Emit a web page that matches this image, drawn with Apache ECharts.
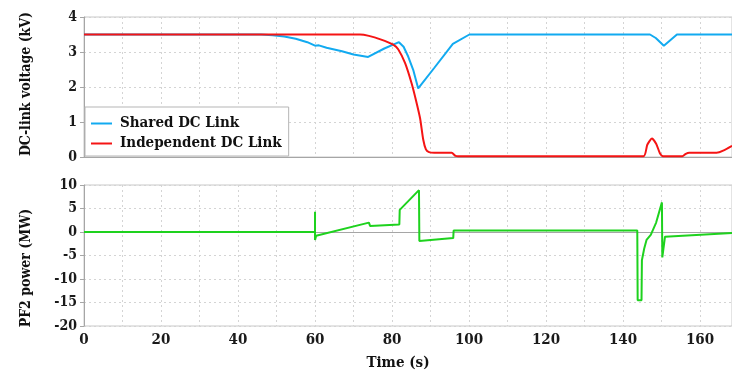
<!DOCTYPE html>
<html>
<head>
<meta charset="utf-8">
<script src="https://cdn.jsdelivr.net/npm/echarts@6/dist/echarts.min.js"></script>
<style>
  html, body { margin: 0; padding: 0; background: #fff; }
  #chart { width: 732px; height: 374px; }
</style>
</head>
<body>
<div id="chart"></div>
<script>
// Time axis (s)
const T_MAX = 168.3;

// DC-link voltage, shared DC link (kV)
const sharedT = [0, 46, 49, 52, 55, 58, 60, 61, 63, 67, 70, 73.8, 78, 81.8, 83, 84.2, 85.5, 86.8, 91, 95.8, 100.1, 147, 148.5, 150.6, 154, 168.3];
const sharedV = [3.5, 3.5, 3.48, 3.44, 3.38, 3.28, 3.18, 3.19, 3.12, 3.02, 2.93, 2.86, 3.1, 3.28, 3.15, 2.87, 2.49, 1.96, 2.55, 3.23, 3.5, 3.5, 3.4, 3.18, 3.5, 3.5];

// DC-link voltage, independent DC link (kV)
const indepT = [0, 71.7, 74, 77, 80.3, 81.6, 83.4, 85.1, 86.2, 87.3, 88.1, 88.8, 89.6, 91, 95.5, 96.5, 97.2, 145.3, 146.3, 147.5, 148.6, 149.6, 150.4, 155.4, 156.3, 157.2, 164.3, 166, 168.3];
const indepV = [3.5, 3.5, 3.46, 3.36, 3.21, 3.08, 2.68, 2.1, 1.63, 1.1, 0.5, 0.22, 0.14, 0.12, 0.12, 0.03, 0.02, 0.02, 0.35, 0.53, 0.38, 0.1, 0.02, 0.02, 0.09, 0.12, 0.12, 0.18, 0.32];

// PF2 coil power (MW)
const pf2T = [0, 60, 60, 60, 60.3, 60.8, 74, 74.3, 81.9, 82, 87, 87.1, 95.9, 96, 143.7, 143.8, 144.8, 144.9, 145.5, 146.1, 147.2, 148.6, 150.1, 150.2, 150.7, 150.9, 168.3];
const pf2V = [0, 0, 4.3, -1.7, -0.8, -0.6, 2.0, 1.3, 1.6, 4.7, 8.9, -1.9, -1.3, 0.3, 0.3, -14.5, -14.5, -6.0, -3.5, -1.7, -0.6, 2.0, 6.3, -5.4, -5.4, -1.0, -0.2];

const voltTicks = [0, 1, 2, 3, 4];
const powerTicks = [-20, -15, -10, -5, 0, 5, 10];
const timeLabelStep = 20;

const zip = (xs, ys) => xs.map((x, i) => [x, ys[i]]);

const FONT = "'DejaVu Serif Condensed', 'DejaVu Serif', serif";
const AXIS_GREY = '#a6a6a6';
const GRID_GREY = '#d4d4d4';

function xAxisCfg(gridIndex, showLabels) {
  return {
    type: 'value', gridIndex, min: 0, max: T_MAX, interval: 10,
    axisLine: { show: true, lineStyle: { color: AXIS_GREY, width: 1 } },
    axisTick: { show: false },
    axisLabel: {
      show: showLabels, margin: 7, color: '#1a1a1a',
      fontFamily: FONT, fontWeight: 'bold', fontSize: 15,
      showMaxLabel: false,
      formatter: v => (Math.abs(v % timeLabelStep) < 1e-6 ? String(v) : '')
    },
    splitLine: { show: true, lineStyle: { color: GRID_GREY, type: [2, 3], width: 1 } }
  };
}

function yAxisCfg(gridIndex, ticks) {
  return {
    type: 'value', gridIndex,
    min: ticks[0], max: ticks[ticks.length - 1], interval: ticks[1] - ticks[0],
    axisLine: { show: true, lineStyle: { color: AXIS_GREY, width: 1 } },
    axisTick: { show: true, length: 4, lineStyle: { color: AXIS_GREY } },
    axisLabel: { margin: 7, color: '#1a1a1a', fontFamily: FONT, fontWeight: 'bold', fontSize: 14 },
    splitLine: { show: true, lineStyle: { color: GRID_GREY, type: [2, 3], width: 1 } }
  };
}

const chart = echarts.init(document.getElementById('chart'), null, { renderer: 'canvas' });

chart.setOption({
  animation: false,
  backgroundColor: '#fff',
  grid: [
    { left: 84, top: 17, right: 0, height: 140, show: true, borderColor: '#c8c8c8', borderWidth: 1, backgroundColor: 'transparent' },
    { left: 84, top: 185, right: 0, height: 141, show: true, borderColor: '#c8c8c8', borderWidth: 1, backgroundColor: 'transparent' }
  ],
  xAxis: [xAxisCfg(0, false), xAxisCfg(1, true)],
  yAxis: [yAxisCfg(0, voltTicks), yAxisCfg(1, powerTicks)],
  legend: {
    data: ['Shared DC Link', 'Independent DC Link'],
    orient: 'vertical', left: 85, top: 107,
    padding: [9, 7, 5, 6], itemGap: 5,
    itemWidth: 21, itemHeight: 2, icon: 'rect',
    backgroundColor: '#fff', borderColor: '#b5b5b5', borderWidth: 1, borderRadius: 0,
    textStyle: { fontFamily: FONT, fontWeight: 'bold', fontSize: 15, color: '#111', padding: [0, 0, 0, 3] }
  },
  graphic: [
    { type: 'text', x: 26, y: 84, rotation: Math.PI / 2,
      style: { text: 'DC-link voltage (kV)', fontFamily: FONT, fontWeight: 'bold', fontSize: 14, fill: '#111', align: 'center', verticalAlign: 'middle' } },
    { type: 'text', x: 26, y: 268, rotation: Math.PI / 2,
      style: { text: 'PF2 power (MW)', fontFamily: FONT, fontWeight: 'bold', fontSize: 14, fill: '#111', align: 'center', verticalAlign: 'middle' } },
    { type: 'text', x: 398, y: 363,
      style: { text: 'Time (s)', fontFamily: FONT, fontWeight: 'bold', fontSize: 15, fill: '#111', align: 'center', verticalAlign: 'middle' } }
  ],
  series: [
    { name: 'Shared DC Link', type: 'line', xAxisIndex: 0, yAxisIndex: 0, data: zip(sharedT, sharedV),
      showSymbol: false, lineStyle: { color: '#12aaf0', width: 2 }, itemStyle: { color: '#12aaf0' } },
    { name: 'Independent DC Link', type: 'line', xAxisIndex: 0, yAxisIndex: 0, data: zip(indepT, indepV),
      showSymbol: false, smooth: 0.2, lineStyle: { color: '#f51414', width: 2 }, itemStyle: { color: '#f51414' } },
    { name: 'PF2 power', type: 'line', xAxisIndex: 1, yAxisIndex: 1, data: zip(pf2T, pf2V),
      showSymbol: false, lineStyle: { color: '#1ed21e', width: 2 }, itemStyle: { color: '#1ed21e' } }
  ]
});
</script>
</body>
</html>
